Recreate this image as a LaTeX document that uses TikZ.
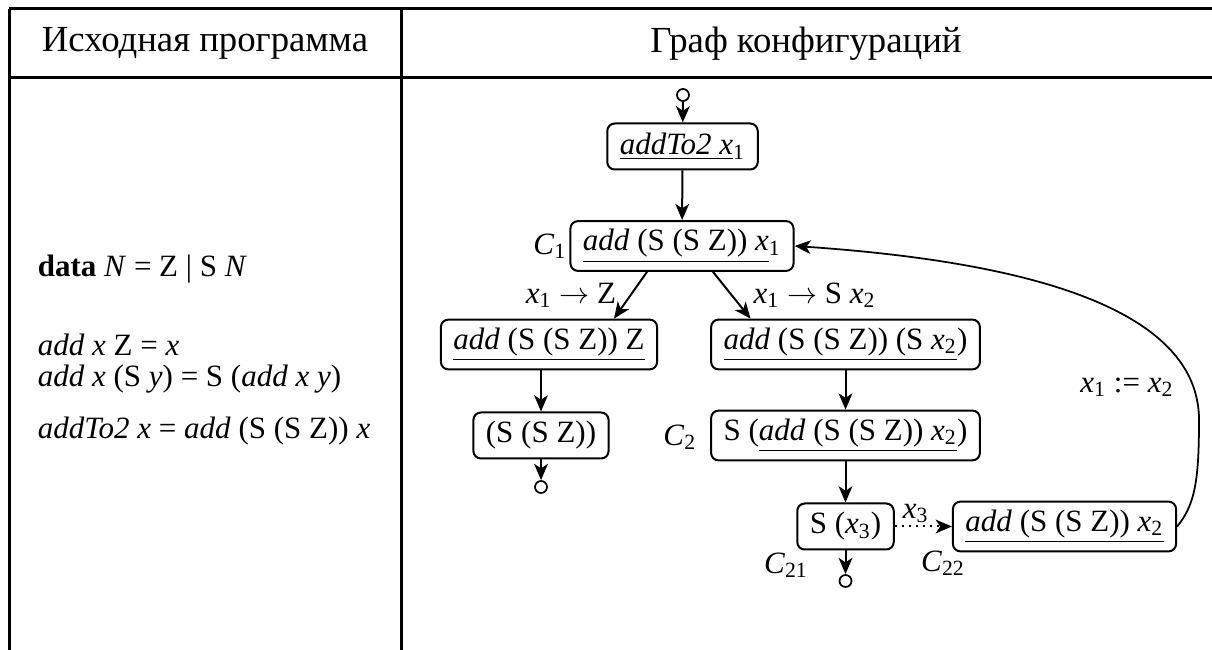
\documentclass[tikz,border=0pt]{standalone}
\usepackage{fontspec}
\setmainfont{Liberation Serif}
\usetikzlibrary{arrows.meta}

\newcommand{\vx}[1]{\textit{x}\textsubscript{#1}}
\newcommand{\cn}[1]{\textit{C}\textsubscript{#1}}

\begin{document}
\begin{tikzpicture}[x=0.4pt, y=-0.4pt, font=\fontsize{12.4}{14.3}\selectfont,
    conf/.style={draw, rounded corners=3pt, line width=0.8pt, inner xsep=5pt, minimum height=18.4pt},
    arr/.style={-{Stealth[length=6.5pt,width=5.5pt,inset=1.8pt]}, line width=0.8pt},
    term/.style={draw, circle, inner sep=0pt, minimum size=4.8pt, line width=0.7pt},
    head/.style={font=\fontsize{14.7}{17}\selectfont}]
    \useasboundingbox (0,0) rectangle (1212,650);

    % table frame
    \draw[line width=1.2pt] (9,9) -- (1212,9) (9,78) -- (1212,78)
        (9,9) -- (9,650) (401,9) -- (401,650);
    \node[head] (H1) at (205,43.5) {Исходная программа};
    \node[head] (H2) at (806,43.5) {Граф конфигураций};

    % program
    \node[anchor=base west] (P1) at (29,277) {\textbf{data} \textit{N} = Z | S \textit{N}};
    \node[anchor=base west] (P2) at (29,356) {\textit{add x} Z = \textit{x}};
    \node[anchor=base west] (P3) at (29,387) {\textit{add x} (S \textit{y}) = S (\textit{add x y})};
    \node[anchor=base west] (P4) at (29,439) {\textit{addTo2 x} = \textit{add} (S (S Z)) \textit{x}};

    % configurations
    \node[term] (S0) at (683,95) {};
    \node[conf] (A2) at (682.5,146.5) {\underline{\textit{addTo2 x}}\textsubscript{1}};
    \node[conf] (C1) at (682,246) {\underline{\textit{add} (S (S Z)) \textit{x}}\textsubscript{1}};
    \node[conf] (LZ) at (549,344.5) {\underline{\textit{add} (S (S Z)) Z}};
    \node[conf] (RB) at (845.5,344.5) {\underline{\textit{add} (S (S Z)) (S \vx{2}})};
    \node[conf] (SSZ) at (541,435.5) {(S (S Z))};
    \node[conf] (C2) at (845.5,435.5) {S (\underline{\textit{add} (S (S Z)) \vx{2}})};
    \node[conf] (SX3) at (845.5,526.5) {S (\vx{3})};
    \node[conf] (RR) at (1064.5,526.5) {\underline{\textit{add} (S (S Z)) \vx{2}}};
    \node[term] (E1) at (541,487) {};
    \node[term] (E2) at (845.5,581) {};

    \node (L1) at (550,246) {\cn{1}};
    \node (L2) at (680,437) {\cn{2}};
    \node (L21) at (786,565) {\cn{21}};
    \node (L22) at (943,563) {\cn{22}};
    \node (LS) at (1127,387) {\vx{1} := \vx{2}};

    \draw[arr] (S0) -- (A2);
    \draw[arr] (A2) -- (C1);
    \draw[arr] ([xshift=-14pt]C1.south) -- ([xshift=26pt]LZ.north)
        node[midway, left=2pt] {\vx{1} $\rightarrow$ Z};
    \draw[arr] ([xshift=12.4pt]C1.south) -- ([xshift=-38pt]RB.north)
        node[midway, right=5pt] {\vx{1} $\rightarrow$ S \vx{2}};
    \draw[arr] (LZ.south -| SSZ) -- (SSZ);
    \draw[arr] (SSZ) -- (E1);
    \draw[arr] (RB) -- (C2);
    \draw[arr] (C2) -- (SX3);
    \draw[arr] (SX3) -- (E2);
    \draw[arr, dotted] (SX3) -- (RR)
        node[midway, above, inner sep=1pt, xshift=-3pt] {\vx{3}};
    \draw[arr, line width=0.7pt] (RR.east) .. controls (1195,505) and (1199,480) .. (1199,420)
        .. controls (1199,300) and (1000,260) .. (C1.east);
\end{tikzpicture}
\end{document}
